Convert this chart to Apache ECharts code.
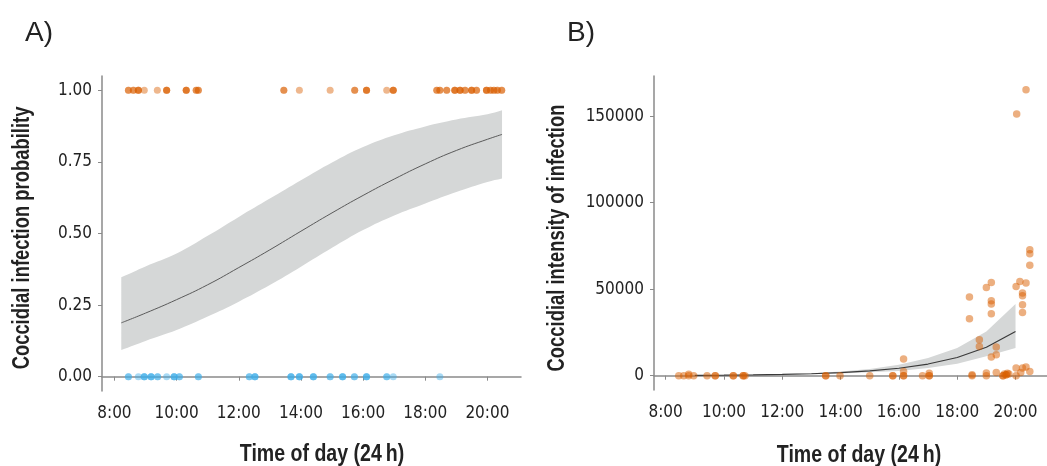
<!DOCTYPE html>
<html>
<head>
<meta charset="utf-8">
<script src="https://cdn.jsdelivr.net/npm/echarts@6/dist/echarts.min.js"></script>
<style>
    html, body { margin: 0; padding: 0; background: #fff; }
    #charts { width: 1047px; height: 466px; }
</style>
</head>
<body>
<div id="charts"></div>
<script>
// ticks
var hourTicks = [8, 10, 12, 14, 16, 18, 20];
var probTicks = [0, 0.25, 0.5, 0.75, 1];
var intensityTicks = [0, 50000, 100000, 150000];

// A) infected (1) / uninfected (0), sampling time in hours, repeated where dots overlap
var infectedTimes = [8.45, 8.45, 8.61, 8.61, 8.77, 8.77, 8.77, 8.96, 9.38, 9.68, 9.68, 9.68,
    10.31, 10.31, 10.31, 10.63, 10.63, 10.70, 10.70, 13.45, 13.45, 13.95, 14.94, 15.73, 15.73,
    16.11, 16.11, 16.11, 16.76, 16.97, 16.97, 16.97, 18.37, 18.37, 18.47, 18.47, 18.69, 18.69,
    18.95, 18.95, 18.95, 19.12, 19.12, 19.12, 19.28, 19.28, 19.49, 19.49, 19.49, 19.65, 19.65,
    19.97, 19.97, 19.97, 20.10, 20.10, 20.21, 20.21, 20.32, 20.32, 20.46, 20.46];
var uninfectedTimes = [8.45, 8.45, 8.77, 8.96, 8.96, 8.96, 9.18, 9.18, 9.18, 9.39, 9.39, 9.68,
    9.92, 9.92, 9.92, 10.09, 10.09, 10.70, 10.70, 12.34, 12.34, 12.52, 12.52, 12.52,
    13.68, 13.68, 13.68, 13.95, 13.95, 13.95, 14.40, 14.40, 14.40, 14.94, 14.94,
    15.34, 15.34, 15.34, 15.72, 15.72, 16.11, 16.11, 16.11, 16.76, 16.76, 16.97, 18.47];

// A) fitted probability + ribbon
var probTime = [8.22, 9, 10, 11, 12, 13, 14, 15, 16, 17, 18, 19, 20, 20.47];
var probFit  = [0.188, 0.222, 0.269, 0.321, 0.381, 0.443, 0.508, 0.572, 0.633, 0.690, 0.743, 0.790, 0.829, 0.846];
var probLow  = [0.093, 0.125, 0.163, 0.210, 0.262, 0.320, 0.384, 0.450, 0.512, 0.563, 0.605, 0.645, 0.680, 0.692];
var probHigh = [0.347, 0.385, 0.430, 0.492, 0.558, 0.622, 0.686, 0.748, 0.802, 0.843, 0.874, 0.898, 0.916, 0.930];

// B) fitted intensity + ribbon
var intTime = [9, 10, 11, 12, 13, 14, 15, 16, 17, 18, 19, 20];
var intFit  = [190, 300, 470, 730, 1140, 1780, 2780, 4330, 6760, 10550, 16450, 25600];
var intLow  = [150, 240, 360, 560, 850, 1300, 1950, 2700, 4450, 6940, 11200, 16000];
var intHigh = [230, 360, 580, 930, 1500, 2400, 3900, 6300, 10200, 16000, 25600, 41400];

// B) observed intensity [time, oocysts]
var intPoints = [
    [8.45, 0], [8.62, 0], [8.79, 0], [8.79, 800], [8.96, 0], [9.42, 0], [9.70, 0], [9.70, 0],
    [10.32, 0], [10.32, 0], [10.66, 0], [10.66, 0], [10.72, 0], [13.49, 0], [13.49, 0], [13.98, 0],
    [15.00, 0], [15.79, 0], [15.79, 0], [16.16, 9650], [16.16, 2500], [16.16, 0], [16.16, 0],
    [16.81, 0], [17.04, 1500], [17.04, 0], [17.04, 0],
    [18.42, 45500], [18.42, 32900], [18.51, 500], [18.51, 0], [18.76, 20800], [18.76, 16900],
    [19.00, 51000], [19.00, 1600], [19.00, 0],
    [19.17, 53900], [19.17, 43400], [19.17, 41400], [19.17, 35800], [19.17, 10800],
    [19.34, 12100], [19.34, 16600], [19.34, 1900],
    [19.57, 0], [19.57, 0], [19.62, 1000], [19.68, 500], [19.68, 500], [19.72, 1400], [19.77, 1000],
    [20.02, 51600], [20.02, 4450], [20.02, 0], [20.04, 151300], [20.15, 54500], [20.18, 1900],
    [20.24, 47800], [20.24, 46200], [20.24, 41000], [20.24, 36600], [20.24, 4450],
    [20.36, 53600], [20.36, 165300], [20.36, 5000],
    [20.49, 72800], [20.49, 70500], [20.49, 63800], [20.49, 2500]
];

var TICK_FONT = "'DejaVu Sans Condensed', 'Liberation Sans Narrow', sans-serif";
var ORANGE = '#D95F02';
var BLUE = '#3DAEE9';

function pairs(xs, ys) {
    var out = [];
    for (var i = 0; i < xs.length; i++) {
        out.push([xs[i], ys[i]]);
    }
    return out;
}

function constPairs(xs, y) {
    var out = [];
    for (var i = 0; i < xs.length; i++) {
        out.push([xs[i], y]);
    }
    return out;
}

function xAxisOf(idx) {
    return {
        type: 'value', gridIndex: idx, min: 7.6, max: 21.08,
        axisLine: { lineStyle: { color: '#8a8a8a', width: 1.5 } },
        axisTick: { show: true, length: 4, lineStyle: { color: '#8a8a8a' }, customValues: hourTicks },
        axisLabel: {
            customValues: hourTicks, margin: 14, fontFamily: TICK_FONT, fontSize: 17, color: '#222',
            formatter: function(v) { return v + ':00'; }
        },
        splitLine: { show: false }
    };
}

function yAxisOf(idx, min, max, ticks, fmt) {
    return {
        type: 'value', gridIndex: idx, min: min, max: max,
        axisLine: { show: true, lineStyle: { color: '#8a8a8a', width: 1.5 } },
        axisTick: { show: true, length: 4, lineStyle: { color: '#8a8a8a' }, customValues: ticks },
        axisLabel: { customValues: ticks, margin: 10, fontFamily: TICK_FONT, fontSize: 17, color: '#222', formatter: fmt },
        splitLine: { show: false }
    };
}

// confidence ribbon as one polygon, positioned by the axes
// end corners are doubled so smoothing keeps them sharp
function bandSeries(idx, xs, lo, hi, smooth) {
    return {
        type: 'custom', xAxisIndex: idx, yAxisIndex: idx, silent: true, z: 1,
        data: pairs(xs, lo),
        renderItem: function(params, api) {
            if (params.dataIndex !== 0) {
                return;
            }
            var n = xs.length;
            var pts = [];
            pts.push(api.coord([xs[0], hi[0]]));
            for (var i = 0; i < n; i++) {
                pts.push(api.coord([xs[i], hi[i]]));
            }
            pts.push(api.coord([xs[n - 1], hi[n - 1]]));
            pts.push(api.coord([xs[n - 1], lo[n - 1]]));
            for (var j = n - 1; j >= 0; j--) {
                pts.push(api.coord([xs[j], lo[j]]));
            }
            pts.push(api.coord([xs[0], lo[0]]));
            return {
                type: 'polygon',
                shape: { points: pts, smooth: smooth },
                style: { fill: '#d5d7d7' }
            };
        }
    };
}

// axis titles (bold, squeezed to look like a condensed face)
function titleText(text, x, y, vertical, sx) {
    return {
        type: 'text', x: x, y: y, scaleX: sx,
        rotation: vertical ? Math.PI / 2 : 0,
        style: {
            text: text, fill: '#222',
            font: 'bold 23px "Liberation Sans", Arial, sans-serif',
            align: 'center', verticalAlign: 'middle'
        }
    };
}

var chart = echarts.init(document.getElementById('charts'), null, { renderer: 'canvas' });

var series = [];
series.push(bandSeries(0, probTime, probLow, probHigh, 0.4));
series.push({
    type: 'line', xAxisIndex: 0, yAxisIndex: 0, data: pairs(probTime, probFit), z: 2,
    symbol: 'none', smooth: true, lineStyle: { color: '#5a5a5a', width: 1 }
});
series.push({
    type: 'scatter', xAxisIndex: 0, yAxisIndex: 0, data: constPairs(infectedTimes, 1), z: 3,
    symbolSize: 7, itemStyle: { color: ORANGE, opacity: 0.45 }
});
series.push({
    type: 'scatter', xAxisIndex: 0, yAxisIndex: 0, data: constPairs(uninfectedTimes, 0), z: 3,
    symbolSize: 7, itemStyle: { color: BLUE, opacity: 0.45 }
});
series.push(bandSeries(1, intTime, intLow, intHigh, 0));
series.push({
    type: 'line', xAxisIndex: 1, yAxisIndex: 1, data: pairs(intTime, intFit), z: 2,
    symbol: 'none', lineStyle: { color: '#3a3a3a', width: 1.2 }
});
series.push({
    type: 'scatter', xAxisIndex: 1, yAxisIndex: 1, data: intPoints, z: 3,
    symbolSize: 7.5, itemStyle: { color: ORANGE, opacity: 0.5 }
});

var option = {
    animation: false,
    backgroundColor: '#fff',
    title: [
        { text: 'A)', left: 20, top: 14, textStyle: { fontFamily: 'Liberation Sans', fontSize: 28, fontWeight: 'normal', color: '#222' } },
        { text: 'B)', left: 562, top: 14, textStyle: { fontFamily: 'Liberation Sans', fontSize: 28, fontWeight: 'normal', color: '#222' } }
    ],
    grid: [
        { left: 102, top: 76, width: 419, height: 315 },
        { left: 654, top: 76, width: 397, height: 314 }
    ],
    xAxis: [xAxisOf(0), xAxisOf(1)],
    yAxis: [
        yAxisOf(0, -0.05, 1.05, probTicks, function(v) { return v.toFixed(2); }),
        yAxisOf(1, -8250, 173250, intensityTicks, function(v) { return String(v); })
    ],
    graphic: [
        titleText('Coccidial infection probability', 23, 238, true, 0.8),
        titleText('Coccidial intensity of infection', 558, 238, true, 0.8),
        titleText('Time of day (24\u2009h)', 322, 455, false, 0.85),
        titleText('Time of day (24\u2009h)', 859, 456, false, 0.85)
    ],
    series: series
};

chart.setOption(option);
</script>
</body>
</html>
